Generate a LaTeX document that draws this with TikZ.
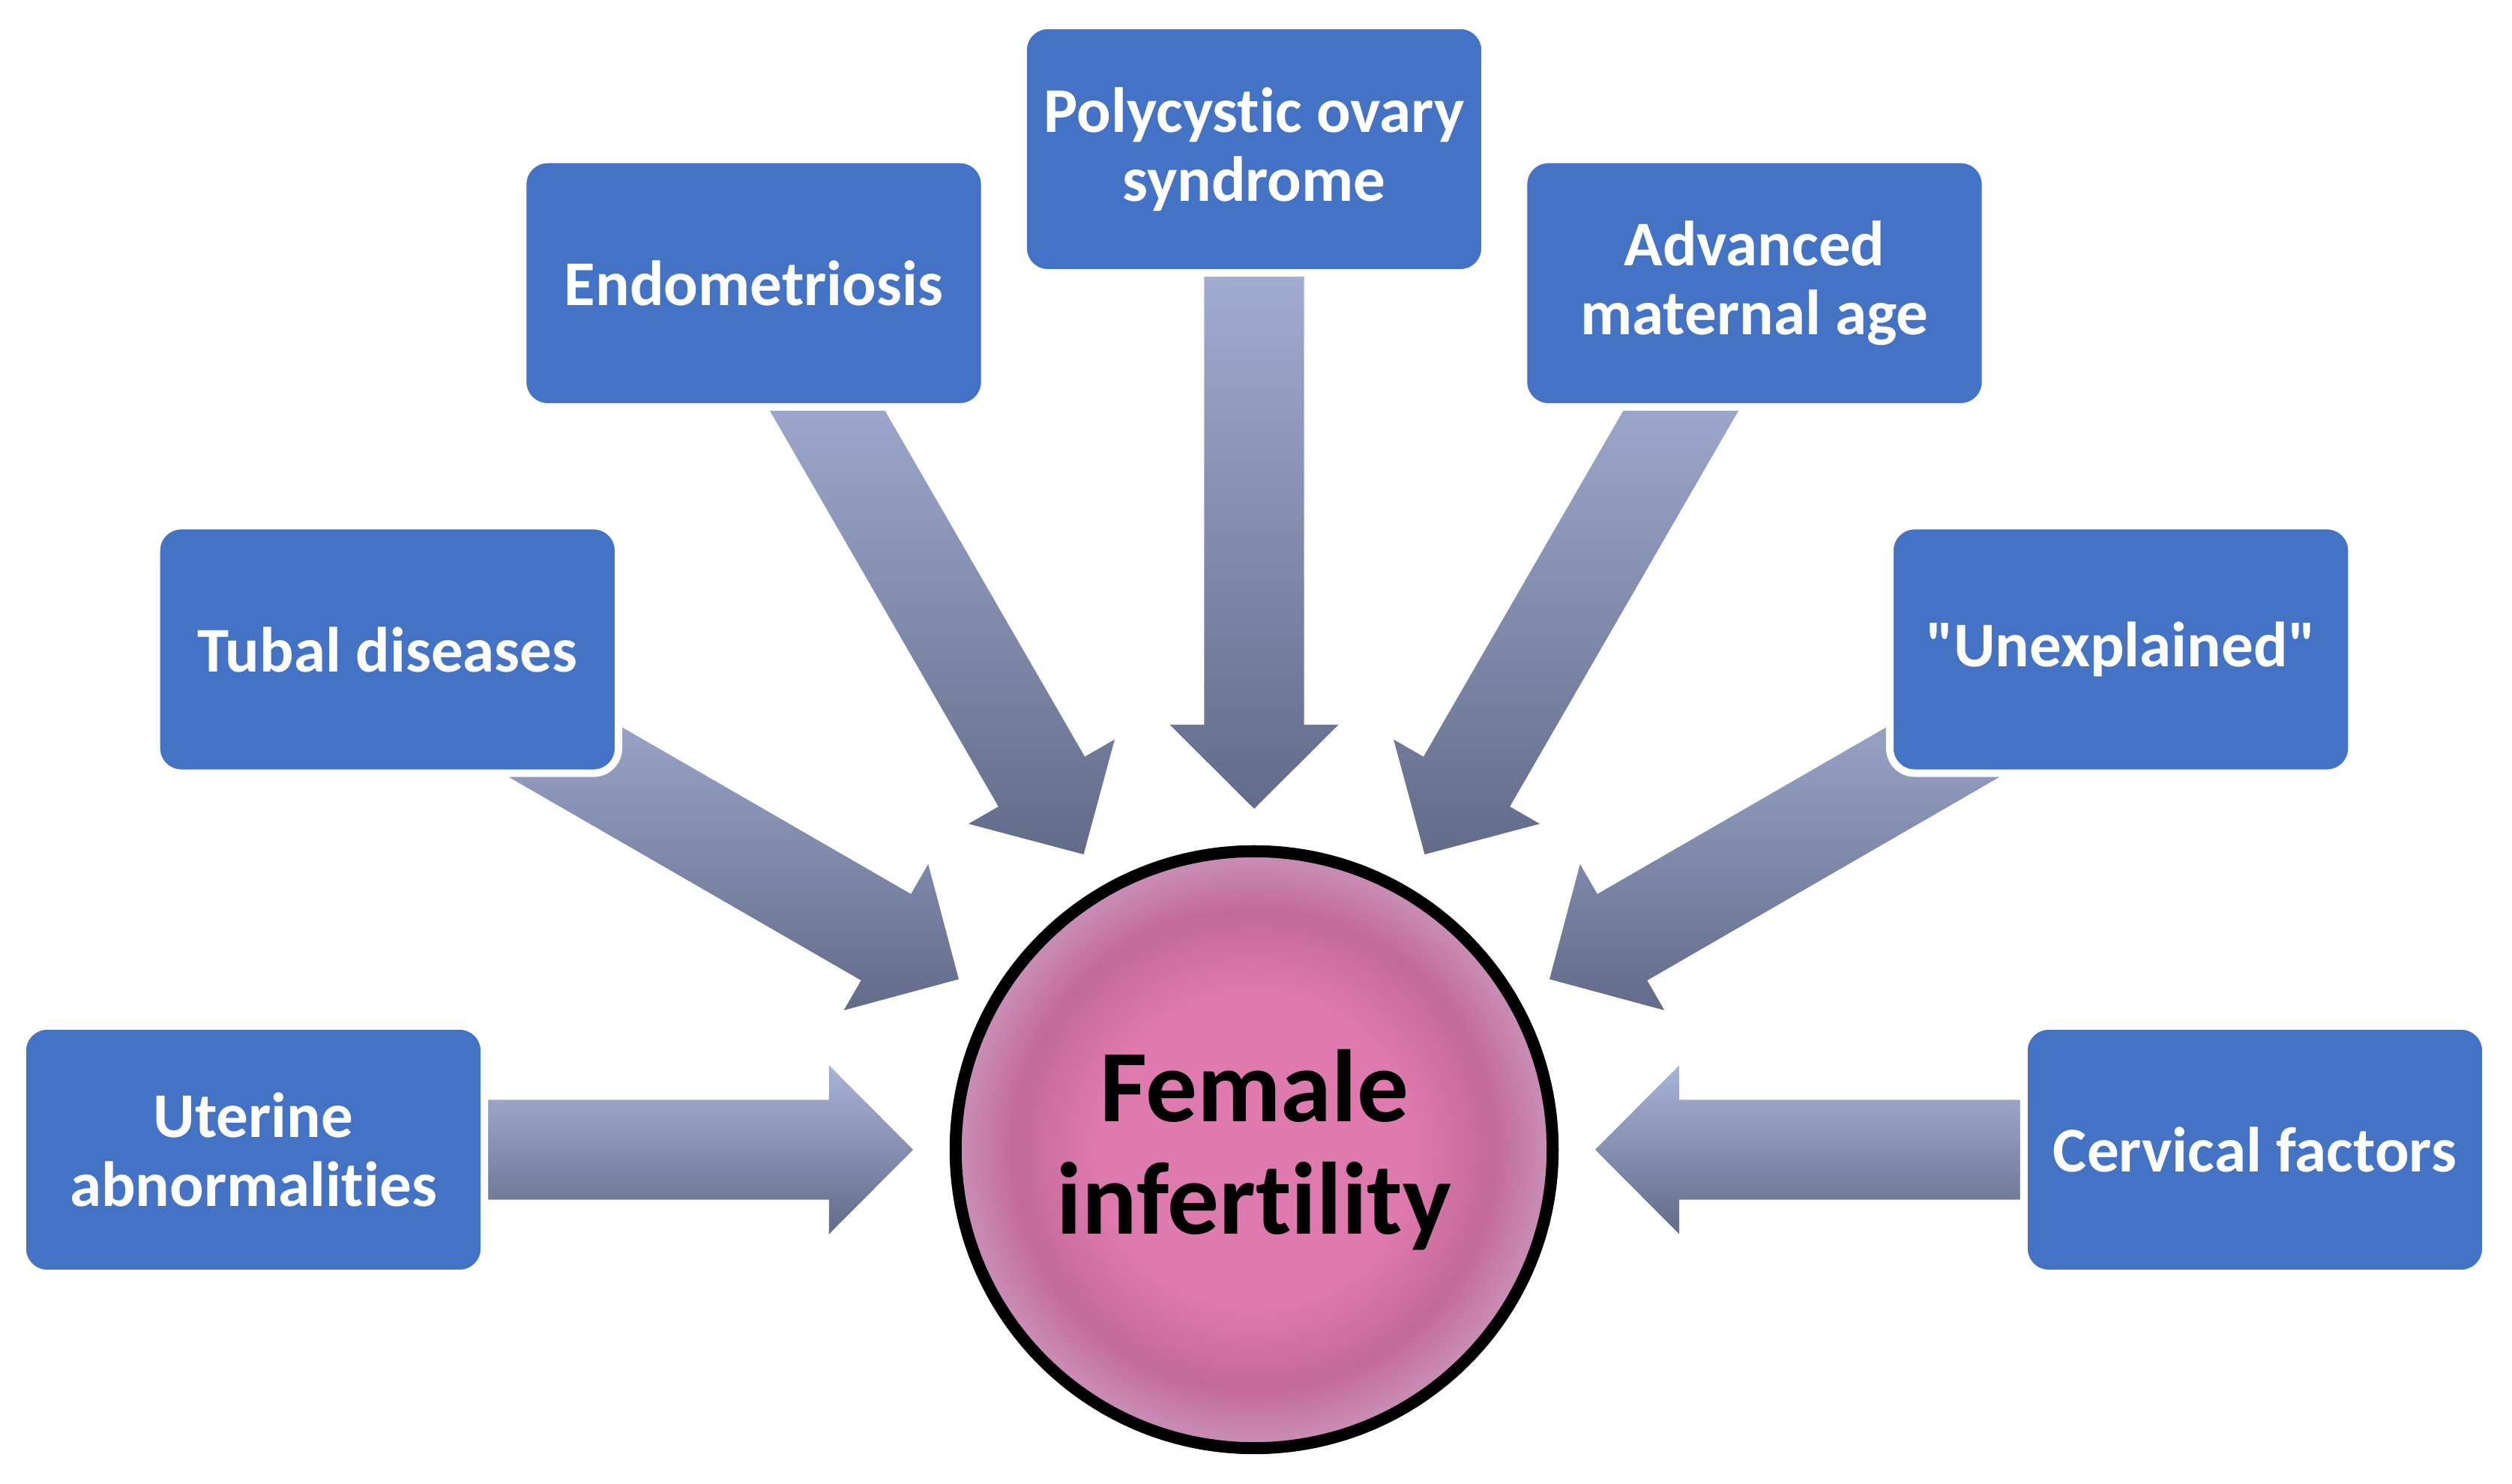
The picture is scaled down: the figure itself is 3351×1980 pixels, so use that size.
\documentclass[tikz,border=0pt]{standalone}
\usepackage{fontspec}
\setmainfont{Carlito}[Ligatures=NoCommon]
\usetikzlibrary{calc}
\definecolor{boxblue}{HTML}{4472C4}
\definecolor{arrtop}{HTML}{A8B3D9}
\definecolor{arrbot}{HTML}{626B88}
\definecolor{pkA}{HTML}{DF7AAE}
\definecolor{pkB}{HTML}{C3699A}
\definecolor{pkC}{HTML}{C991B8}
\pgfdeclareradialshading{pinkball}{\pgfpoint{0bp}{0bp}}{color(0bp)=(pkA); color(13bp)=(pkA); color(20bp)=(pkB); color(25bp)=(pkC); color(50bp)=(pkC)}
\pgfdeclarelayer{bg}
\pgfsetlayers{bg,main}
\newcommand\fatarrow[1]{%
  \coordinate (tp-#1) at ($(fi.center)!0.3408!(#1.center)$);
  \coordinate (tl-#1) at ($(fi.center)!0.936!(#1.center)$);
  \coordinate (hb-#1) at ($(tp-#1)!1.12cm!(tl-#1)$);
  \path[fatarr] ($(tl-#1)!0.665cm!90:(tp-#1)$)
    -- ($(hb-#1)!0.665cm!90:(tp-#1)$)
    -- ($(hb-#1)!1.125cm!90:(tp-#1)$)
    -- (tp-#1)
    -- ($(hb-#1)!1.125cm!-90:(tp-#1)$)
    -- ($(hb-#1)!0.665cm!-90:(tp-#1)$)
    -- ($(tl-#1)!0.665cm!-90:(tp-#1)$) -- cycle;}
\begin{document}
\begin{tikzpicture}[x=0.01cm,y=0.01cm,
  cause/.style={rectangle, rounded corners=0.33cm, fill=boxblue, draw=white,
    line width=0.1cm, minimum width=6.16cm, minimum height=3.30cm, text=white,
    font=\bfseries\fontsize{24.2}{26.2}\selectfont, align=center, inner sep=0pt},
  hub/.style={circle, minimum size=7.96cm, inner sep=0pt, draw=black,
    line width=0.16cm, shade, shading=pinkball,
    font=\bfseries\fontsize{39}{42.7}\selectfont, align=center},
  fatarr/.style={top color=arrtop, bottom color=arrbot, draw=none}]
\useasboundingbox (0,0) rectangle (3351,1980);
\node[hub] (fi) at (1673,446) {Female\\infertility};
\node[cause] (ut) at ($(fi.center)+(180:1335)$) {Uterine\\abnormalities};
\node[cause] (tb) at ($(fi.center)+(150:1335)$) {Tubal diseases};
\node[cause] (en) at ($(fi.center)+(120:1335)$) {Endometriosis};
\node[cause] (pc) at ($(fi.center)+(90:1335)$) {Polycystic ovary\\syndrome};
\node[cause] (am) at ($(fi.center)+(60:1335)$) {Advanced\\maternal age};
\node[cause] (un) at ($(fi.center)+(30:1335)$) {\textquotedbl Unexplained\textquotedbl};
\node[cause] (cv) at ($(fi.center)+(0:1335)$) {Cervical factors};
\begin{pgfonlayer}{bg}
\fatarrow{ut}
\fatarrow{tb}
\fatarrow{en}
\fatarrow{pc}
\fatarrow{am}
\fatarrow{un}
\fatarrow{cv}
\end{pgfonlayer}
\end{tikzpicture}
\end{document}
